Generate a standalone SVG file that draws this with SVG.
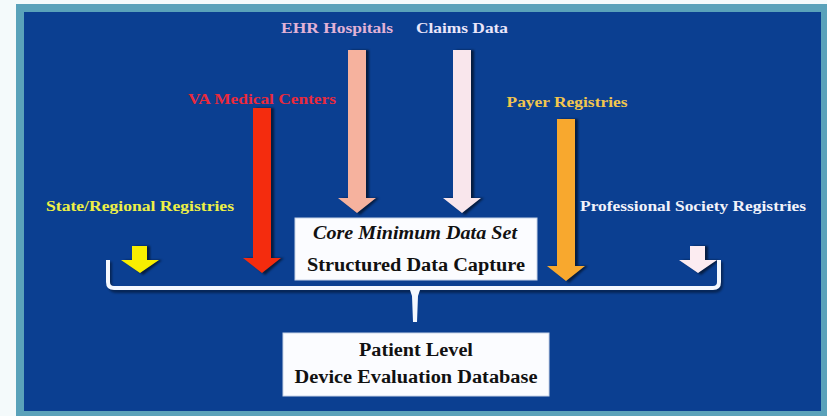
<svg xmlns="http://www.w3.org/2000/svg" width="827" height="416" viewBox="0 0 827 416">
  <defs>
    <style>
      .lbl { font-family: "Liberation Serif", "Times New Roman", serif; font-weight: bold; font-size: 15px; text-anchor: middle; }
      .box { fill: #fbfcff; stroke: #c8d4e8; stroke-width: 1; }
      .boxtxt { font-family: "Liberation Serif", "Times New Roman", serif; font-weight: bold; font-size: 18px; fill: #111; text-anchor: middle; }
      .shadow { fill: #000; opacity: 0.55; }
    </style>
    <filter id="blur" x="-20%" y="-20%" width="140%" height="140%">
      <feGaussianBlur stdDeviation="1.2"/>
    </filter>
  </defs>

  <!-- background and frame -->
  <rect x="0" y="0" width="827" height="416" fill="#f4fafb"/>
  <rect x="16" y="4" width="811" height="412" fill="#5aa2ba"/>
  <rect x="24" y="12" width="797" height="399" fill="#0b3f91"/>

  <!-- labels -->
  <g id="label-ehr"><text class="lbl" x="337" y="33" fill="#e2b2d6" textLength="112" lengthAdjust="spacingAndGlyphs">EHR Hospitals</text></g>
  <g id="label-claims"><text class="lbl" x="462" y="33" fill="#ebe6fa" textLength="92" lengthAdjust="spacingAndGlyphs">Claims Data</text></g>
  <g id="label-va"><text class="lbl" x="262" y="104" fill="#ea2a3c" textLength="148" lengthAdjust="spacingAndGlyphs">VA Medical Centers</text></g>
  <g id="label-payer"><text class="lbl" x="567" y="107" fill="#f2c64e" textLength="121" lengthAdjust="spacingAndGlyphs">Payer Registries</text></g>
  <g id="label-state"><text class="lbl" x="140" y="211" fill="#eef046" textLength="188" lengthAdjust="spacingAndGlyphs">State/Regional Registries</text></g>
  <g id="label-prof"><text class="lbl" x="693" y="211" fill="#f2f2fa" textLength="226" lengthAdjust="spacingAndGlyphs">Professional Society Registries</text></g>

  <!-- connectors: arrows and brace -->
  <g id="connectors">
    <!-- shadows -->
    <g class="shadow" filter="url(#blur)">
      <path d="M351,50 H369 V198 H379 L360,215 L341,198 H351 Z"/>
      <path d="M456,50 H474 V198 H484 L465,215 L446,198 H456 Z"/>
      <path d="M256,108 H274 V258 H284 L265,275 L246,258 H256 Z"/>
      <path d="M560,119 H578 V266 H588 L569,283 L550,266 H560 Z"/>
      <path d="M135,246 H150 V260 H162 L143,275 L124,260 H135 Z"/>
      <path d="M693,246 H708 V260 H720 L701,275 L682,260 H693 Z"/>
    </g>
    <path d="M348,50 H366 V198 H376 L357,213 L338,198 H348 Z" fill="#f6b29e"/>
    <path d="M453,50 H471 V198 H481 L462,213 L443,198 H453 Z" fill="#f9e6ec"/>
    <path d="M253,108 H271 V258 H281 L262,273 L243,258 H253 Z" fill="#f42c0e"/>
    <path d="M557,119 H575 V266 H585 L566,281 L547,266 H557 Z" fill="#f8a82e"/>
    <path d="M132,246 H147 V260 H159 L140,273 L121,260 H132 Z" fill="#f8ee00"/>
    <path d="M690,246 H705 V260 H717 L698,273 L679,260 H690 Z" fill="#fcecf1"/>

    <!-- brace -->
    <path d="M109,260 V282 Q109,289 116,289 H713 Q720,289 720,282 V260" fill="none" stroke="#000" stroke-width="4" opacity="0.4" transform="translate(1,2)" filter="url(#blur)"/>
    <path d="M108,260 V282 Q108,288 114,288 H713 Q719,288 719,282 V260" fill="none" stroke="#f4f8ff" stroke-width="4"/>
    <path d="M409,287 L421,287 L418,296 L417,322 L413,322 L412,296 Z" fill="#f4f8ff"/>
  </g>

  <!-- boxes -->
  <g id="core-box">
    <rect class="box" x="295" y="218" width="242" height="62"/>
    <text class="boxtxt" x="415" y="239" font-style="italic" textLength="204" lengthAdjust="spacingAndGlyphs">Core Minimum Data Set</text>
    <text class="boxtxt" x="416" y="271" textLength="218" lengthAdjust="spacingAndGlyphs">Structured Data Capture</text>
  </g>
  <g id="patient-box">
    <rect class="box" x="283" y="333" width="266" height="63"/>
    <text class="boxtxt" x="416" y="356" textLength="114" lengthAdjust="spacingAndGlyphs">Patient Level</text>
    <text class="boxtxt" x="416" y="383" font-size="17" textLength="243" lengthAdjust="spacingAndGlyphs">Device Evaluation Database</text>
  </g>
</svg>
